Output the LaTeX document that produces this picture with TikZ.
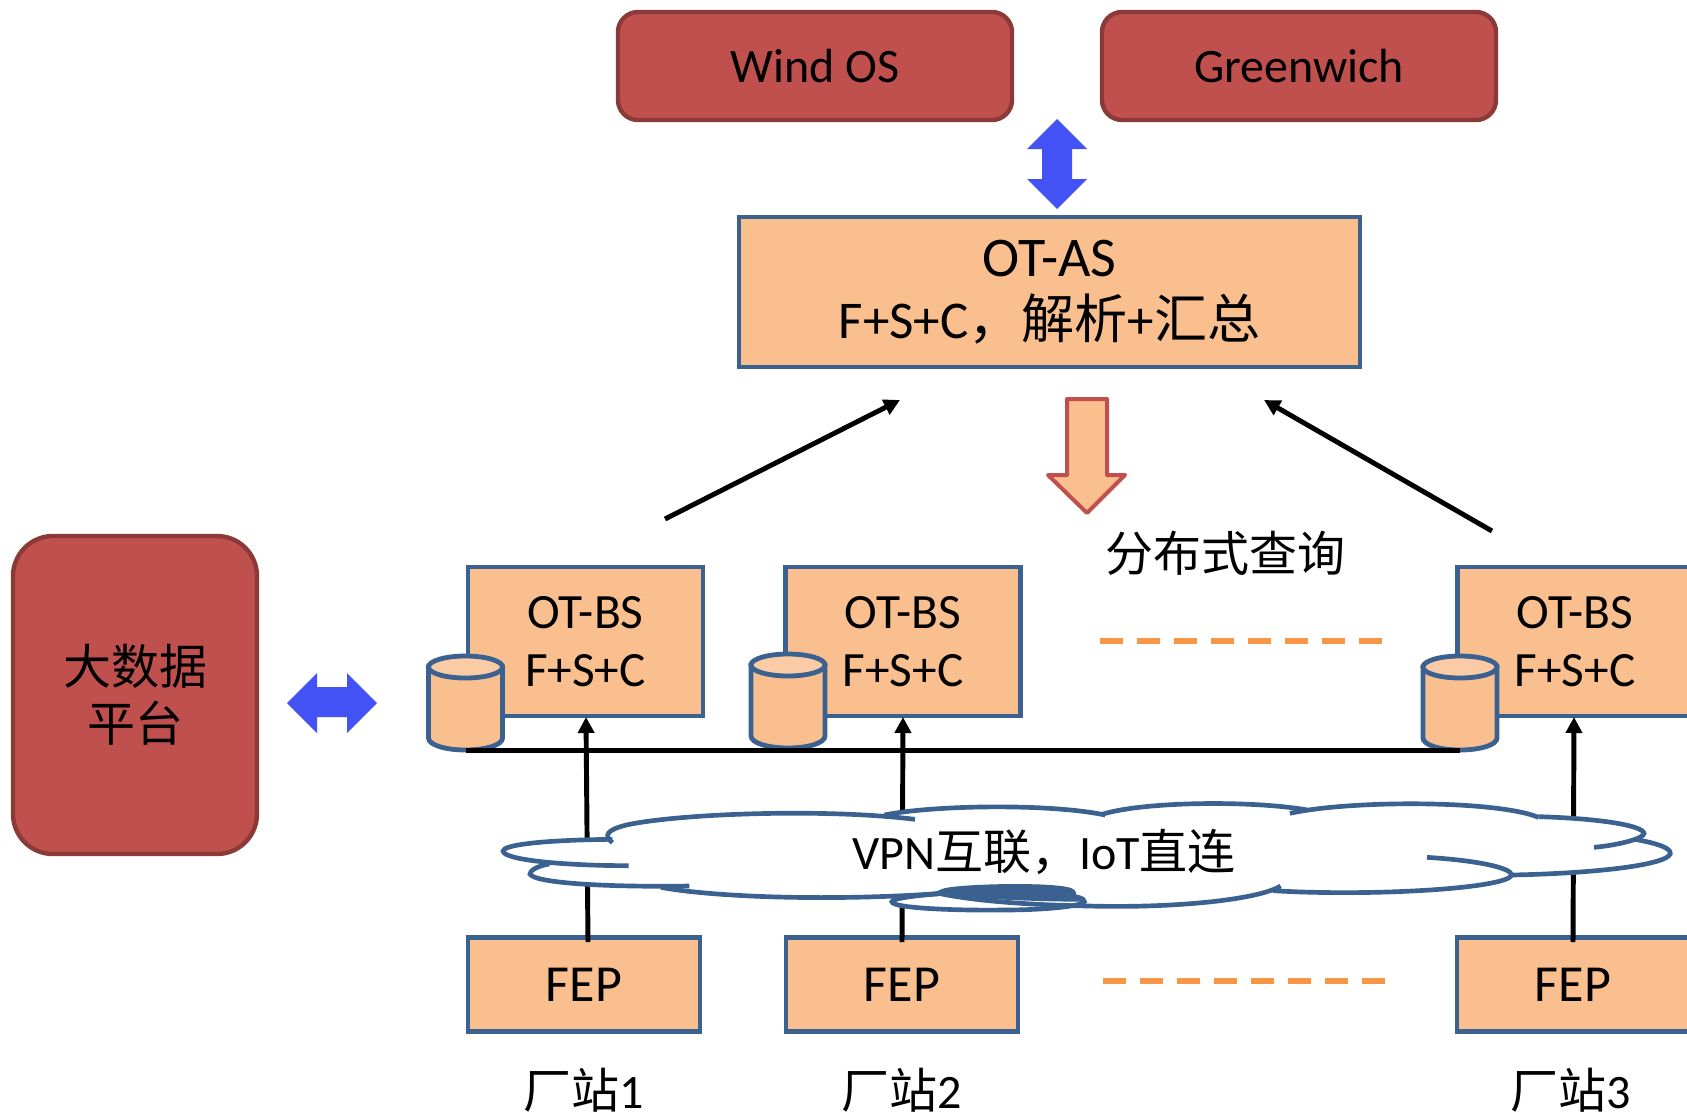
\documentclass[tikz,border=0pt]{standalone}
\usepackage{fontspec}
\setmainfont{Carlito}
\newfontfamily\cjk{Noto Sans CJK SC}
\usetikzlibrary{arrows.meta}
\definecolor{boxfill}{HTML}{F9BF8F}
\definecolor{boxtop}{HTML}{FBCBA5}
\definecolor{boxline}{HTML}{3A6190}
\definecolor{redfill}{HTML}{BF504D}
\definecolor{redline}{HTML}{8C3A38}
\definecolor{bluearrow}{HTML}{4352F5}
\definecolor{dashorange}{HTML}{F79646}
\tikzset{
  txt/.style={font=\fontsize{36}{43}\selectfont, align=center, text=black, inner sep=0pt},
  txtbs/.style={font=\fontsize{37}{43}\selectfont, align=center, text=black, inner sep=0pt},
  txtbig/.style={font=\fontsize{39}{46}\selectfont, align=center, text=black, inner sep=0pt},
  orangebox/.style={draw=boxline, fill=boxfill, line width=3.4pt, sharp corners, align=center, inner sep=0pt},
  redbox/.style={draw=redline, fill=redfill, line width=3.3pt, align=center, inner sep=0pt},
  bsbox/.style={orangebox, txtbs, minimum width=176.25pt, minimum height=111.75pt},
  fepbox/.style={orangebox, txtbig, minimum width=174pt, minimum height=70.5pt},
  topbox/.style={redbox, txt, minimum width=295.5pt, minimum height=81pt, rounded corners=15pt},
  cylline/.style={draw=boxline, line width=3.6pt},
  upline/.style={draw=black, line width=3.7pt, -{Triangle[length=12pt,width=12pt]}},
  diagline/.style={draw=black, line width=3.7pt, -{Triangle[length=12pt,width=12pt]}},
  orangedash/.style={draw=dashorange, line width=3.8pt, dash pattern=on 17pt off 10.8pt},
  cloudline/.style={draw=boxline, line width=3.5pt},
  blueblock/.style={fill=bluearrow},
}
\newcommand{\dbdraw}[3]{%
  \coordinate (#1) at (#2,#3);
  \coordinate (#1 base) at (#2,#3+83);
  \begin{scope}[shift={(#1)}]
    \filldraw[cylline, fill=boxfill] (-37,0) -- (-37,71) .. controls (-37,78) and (-20,83) .. (0,83)
      .. controls (20,83) and (37,78) .. (37,71) -- (37,0) -- cycle;
    \filldraw[cylline, fill=boxtop] (0,0) ellipse [x radius=37, y radius=11];
  \end{scope}}
\begin{document}
\begin{tikzpicture}[x=0.75pt,y=-0.75pt]
\clip (0,0) rectangle (1687,1114);
% top systems
\node[topbox] (wind) at (815,66) {\raisebox{-1pt}{Wind OS}};
\node[topbox] (green) at (1299,66) {\raisebox{-1pt}{Greenwich}};
\fill[blueblock] (1057,119) -- (1087,149) -- (1072,149) -- (1072,179) -- (1087,179) -- (1057,209)
  -- (1027,179) -- (1042,179) -- (1042,149) -- (1027,149) -- cycle;
% OT-AS
\node[orangebox, txtbig, minimum width=465.75pt, minimum height=112.5pt] (as) at (1049.5,292)
  {\raisebox{-2.4pt}{\fontsize{42}{46}\selectfont OT-AS}\\\raisebox{-2.4pt}{\fontsize{39.8}{46}\selectfont F+S+C{\cjk ，解析}+{\cjk 汇总}}};
% query arrow
\draw[draw=redfill, fill=boxfill, line width=3pt, line join=round] (1067,399) -- (1107,399) -- (1107,475)
  -- (1125,475) -- (1087,513) -- (1048,475) -- (1067,475) -- cycle;
\node[txt] (qlabel) at (1225,553) {\cjk 分布式查询};
% big data
\node[redbox, txt, minimum width=183pt, minimum height=238.5pt, rounded corners=30pt] (bigdata) at (135,695)
  {\raisebox{-2.3pt}{\cjk 大数据}\\\raisebox{-2.3pt}{\cjk 平台}};
\fill[blueblock] (287,703) -- (317,673) -- (317,687) -- (347,687) -- (347,673) -- (377,703)
  -- (347,733) -- (347,717) -- (317,717) -- (317,733) -- cycle;
% endpoints
\coordinate (a1) at (665,519);
\coordinate (a2) at (900,400);
\coordinate (b1) at (1492,531);
\coordinate (b2) at (1264,400);
\coordinate (u1a) at (588,942); \coordinate (u1b) at (586,717);
\coordinate (u2a) at (902,942); \coordinate (u2b) at (903,717);
\coordinate (u3a) at (1573,942); \coordinate (u3b) at (1574,717);
\coordinate (d1a) at (1100,641); \coordinate (d1b) at (1382,641);
\coordinate (d2a) at (1103,981); \coordinate (d2b) at (1385,981);
% BS boxes
\node[bsbox] (bs1) at (585.5,641.5) {\raisebox{-3.5pt}{OT-BS}\\\raisebox{-3.5pt}{F+S+C}};
\node[bsbox] (bs2) at (903,641.5) {\raisebox{-3.5pt}{OT-BS}\\\raisebox{-3.5pt}{F+S+C}};
\node[bsbox] (bs3) at (1575,641.5) {\raisebox{-3.5pt}{OT-BS}\\\raisebox{-3.5pt}{F+S+C}};
% FEP boxes
\node[fepbox] (fep1) at (584,984.5) {\raisebox{-1pt}{FEP}};
\node[fepbox] (fep2) at (902,984.5) {\raisebox{-1pt}{FEP}};
\node[fepbox] (fep3) at (1573,984.5) {\raisebox{-1pt}{FEP}};
% connectors
\draw[diagline] (a1) -- (a2);
\draw[diagline] (b1) -- (b2);
\draw[upline] (u1a) -- (u1b);
\draw[upline] (u2a) -- (u2b);
\draw[upline] (u3a) -- (u3b);
\draw[orangedash] (d1a) -- (d1b);
\draw[orangedash] (d2a) -- (d2b);
% cylinders and bus
\dbdraw{db1}{465.5}{667}
\dbdraw{db2}{788}{665}
\dbdraw{db3}{1460}{667}
\draw[line width=3.75pt] (db1 base) -- (db3 base);
% cloud
\begin{scope}[shift={(480,780)}]
\begin{scope}[x=0.5774pt,y=-0.25pt]
\fill[white] (170,178) .. controls (80,180) and (30,195) .. (30,213)
  .. controls (30,235) and (60,245) .. (90,252)
  .. controls (70,260) and (65,275) .. (65,282)
  .. controls (70,310) and (170,322) .. (235,322)
  .. controls (300,350) and (450,365) .. (535,358)
  .. controls (535,385) and (620,392) .. (680,390)
  .. controls (730,390) and (770,385) .. (790,378)
  .. controls (900,385) and (1010,360) .. (1030,332)
  .. controls (1160,350) and (1250,335) .. (1340,285)
  .. controls (1450,280) and (1540,255) .. (1546,222)
  .. controls (1548,205) and (1530,190) .. (1500,178)
  .. controls (1512,170) and (1512,165) .. (1512,160)
  .. controls (1510,135) and (1450,115) .. (1375,110)
  .. controls (1320,60) and (1130,60) .. (1052,90)
  .. controls (1000,55) and (860,65) .. (808,103)
  .. controls (740,70) and (590,75) .. (525,105)
  .. controls (450,85) and (260,100) .. (190,135)
  .. controls (165,150) and (160,165) .. (170,178) -- cycle;
\draw[cloudline] (172,178) .. controls (80,180) and (30,195) .. (30,213) .. controls (30,240) and (110,257) .. (193,257);
\draw[cloudline] (90,252) .. controls (70,260) and (65,275) .. (65,282) .. controls (70,310) and (170,322) .. (272,318);
\draw[cloudline] (172,188) .. controls (160,165) and (165,150) .. (190,135) .. controls (260,100) and (450,85) .. (565,118);
\draw[cloudline] (525,105) .. controls (590,75) and (740,70) .. (812,105);
\draw[cloudline] (808,103) .. controls (860,65) and (1000,60) .. (1075,90);
\draw[cloudline] (1052,100) .. controls (1130,60) and (1320,60) .. (1375,112);
\draw[cloudline] (1375,110) .. controls (1450,115) and (1510,135) .. (1512,160) .. controls (1512,175) and (1480,195) .. (1447,202);
\draw[cloudline] (1500,178) .. controls (1530,190) and (1548,205) .. (1546,222) .. controls (1540,255) and (1450,280) .. (1340,285);
\draw[cloudline] (1230,232) .. controls (1300,242) and (1340,265) .. (1340,285) .. controls (1335,325) and (1160,350) .. (1030,332);
\draw[cloudline] (1040,318) .. controls (1010,360) and (900,385) .. (790,378) .. controls (720,375) and (650,365) .. (600,342);
\draw[cloudline] (235,322) .. controls (300,350) and (450,365) .. (600,340);
\draw[cloudline] (605,340) .. controls (570,345) and (535,355) .. (535,365) .. controls (535,385) and (620,392) .. (680,390) .. controls (730,390) and (780,380) .. (785,365) .. controls (788,345) and (730,332) .. (650,335);
\filldraw[cloudline, fill=boxline] (600,335) .. controls (610,318) and (760,310) .. (770,335) .. controls (775,345) and (760,350) .. (690,345) .. controls (660,345) and (620,345) .. (600,335) -- cycle;
\draw[cloudline] (610,340) .. controls (650,352) and (740,358) .. (782,358);
\end{scope}
\end{scope}
\node[txt] (cloudlabel) at (1044,852) {VPN{\cjk 互联，}IoT{\cjk 直连}};
% site labels
\node[txt] (site1) at (584,1090) {{\cjk 厂站}1};
\node[txt] (site2) at (902,1090) {{\cjk 厂站}2};
\node[txt] (site3) at (1571,1090) {{\cjk 厂站}3};
\end{tikzpicture}
\end{document}
